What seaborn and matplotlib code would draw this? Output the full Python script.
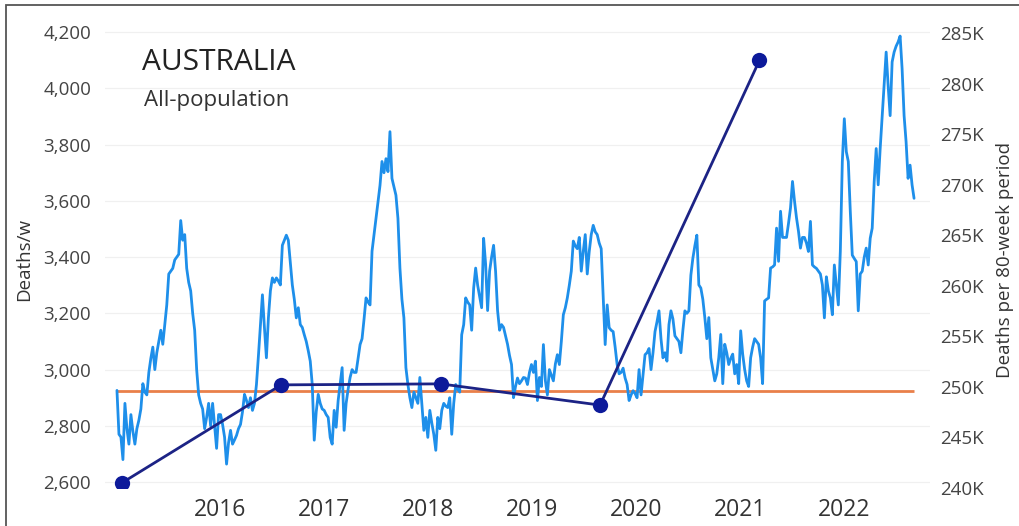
import matplotlib
matplotlib.use("Agg")
import matplotlib.pyplot as plt
import matplotlib.dates as mdates
from matplotlib.ticker import FuncFormatter, FixedLocator
from matplotlib.patches import Rectangle
import pandas as pd
import seaborn as sns

# weekly all-cause deaths, Australia
start_week = "2015-01-04"
deaths_2015 = [2926, 2770, 2760, 2680, 2880, 2790, 2735, 2840, 2780, 2735, 2790, 2820, 2860,
               2950, 2920, 2910, 2990, 3040, 3080, 3000, 3060, 3100, 3140, 3090, 3160, 3230,
               3340, 3350, 3360, 3390, 3400, 3410, 3530, 3460, 3480, 3360, 3310, 3280, 3200,
               3140, 3000, 2910, 2880, 2860, 2790, 2830, 2880, 2800, 2880, 2800, 2720, 2840]
deaths_2016 = [2840, 2805, 2760, 2664, 2740, 2784, 2735, 2750, 2766, 2790, 2805, 2850, 2912,
               2890, 2865, 2900, 2855, 2880, 2947, 3050, 3160, 3266, 3150, 3042, 3184, 3280,
               3326, 3310, 3326, 3315, 3301, 3442, 3460, 3478, 3460, 3380, 3301, 3250, 3184,
               3220, 3160, 3150, 3124, 3100, 3067, 3030, 2947, 2749, 2850, 2912, 2880, 2860]
deaths_2017 = [2855, 2840, 2830, 2759, 2735, 2855, 2795, 2890, 2950, 3007, 2784, 2880, 2930,
               2972, 3000, 2990, 2990, 3040, 3089, 3110, 3180, 3255, 3240, 3230, 3421, 3480,
               3538, 3600, 3655, 3740, 3700, 3750, 3704, 3846, 3680, 3650, 3620, 3538, 3361,
               3250, 3184, 3007, 2947, 2900, 2865, 2920, 2900, 2880, 2972, 2880, 2784, 2830]
deaths_2018 = [2759, 2855, 2810, 2770, 2713, 2830, 2790, 2855, 2880, 2870, 2865, 2900, 2770,
               2880, 2947, 2930, 2920, 3124, 3160, 3255, 3240, 3230, 3140, 3290, 3361, 3300,
               3260, 3220, 3467, 3375, 3210, 3350, 3400, 3442, 3350, 3210, 3140, 3160, 3150,
               3120, 3090, 3050, 3018, 2900, 2940, 2970, 2950, 2960, 2972, 2970, 2947, 2990]
deaths_2019 = [3018, 2990, 3030, 2890, 2972, 2940, 3089, 2960, 2910, 3000, 2980, 2960, 3020,
               3053, 3018, 3100, 3195, 3220, 3255, 3300, 3350, 3457, 3440, 3430, 3470, 3350,
               3420, 3480, 3340, 3420, 3480, 3513, 3490, 3480, 3450, 3430, 3255, 3089, 3230,
               3149, 3140, 3135, 3080, 3018, 2985, 2990, 3005, 2970, 2947, 2890, 2910, 2925]
deaths_2020 = [2915, 2900, 3000, 2910, 2980, 3053, 3060, 3075, 3000, 3060, 3135, 3170, 3209,
               3110, 3042, 3060, 3030, 3160, 3209, 3180, 3120, 3110, 3100, 3060, 3140, 3209,
               3200, 3209, 3336, 3396, 3440, 3478, 3301, 3290, 3250, 3185, 3110, 3185, 3042,
               3000, 2960, 2985, 3042, 3125, 2950, 3090, 3060, 3018, 3040, 3055, 2985, 3018]
deaths_2021 = [2950, 3138, 3055, 3000, 2960, 2940, 3042, 3080, 3110, 3100, 3090, 3042, 2950,
               3244, 3250, 3255, 3361, 3365, 3372, 3503, 3385, 3563, 3470, 3470, 3470, 3520,
               3575, 3669, 3600, 3540, 3492, 3432, 3470, 3470, 3450, 3420, 3527, 3372, 3365,
               3360, 3350, 3340, 3301, 3184, 3330, 3280, 3255, 3195, 3372, 3300, 3230, 3421]
deaths_2022 = [3740, 3892, 3775, 3740, 3563, 3407, 3395, 3384, 3209, 3340, 3350, 3400, 3432,
               3372, 3467, 3503, 3669, 3786, 3657, 3786, 3900, 4009, 4129, 4009, 3903, 4094,
               4129, 4150, 4165, 4186, 4070, 3903, 3810, 3680, 3727, 3657, 3609]

# pre-pandemic weekly level (orange line)
baseline_level = 2925

# deaths per 80-week period (right axis)
period_dates = ["2015-01-21", "2016-08-03", "2018-02-14", "2019-08-28", "2021-03-10"]
period_deaths = [240500, 250200, 250300, 248200, 282300]

year_ticks = [2016, 2017, 2018, 2019, 2020, 2021, 2022]
left_ticks = [2600, 2800, 3000, 3200, 3400, 3600, 3800, 4000, 4200]
right_ticks = [240000, 245000, 250000, 255000, 260000, 265000, 270000, 275000, 280000, 285000]

deaths = (deaths_2015 + deaths_2016 + deaths_2017 + deaths_2018 + deaths_2019
          + deaths_2020 + deaths_2021 + deaths_2022)
weekly = pd.DataFrame({
    "week": pd.date_range(start_week, periods=len(deaths), freq="W"),
    "deaths": deaths,
})
periods = pd.DataFrame({"date": pd.to_datetime(period_dates), "deaths": period_deaths})

sns.set_style("white")
plt.rcParams["font.family"] = ["Open Sans", "DejaVu Sans"]

fig = plt.figure(figsize=(10.2, 5.26), dpi=100)
ax = fig.add_axes([105 / 1020, 1 - 488 / 526, 825 / 1020, 457 / 526])
ax2 = ax.twinx()

sns.lineplot(data=weekly, x="week", y="deaths", ax=ax, color="#1E8FEA", lw=2.0, zorder=3)
ax.hlines(baseline_level, weekly["week"].iloc[0], weekly["week"].iloc[-1],
          color="#E9804A", lw=2.0, zorder=2)
sns.lineplot(data=periods, x="date", y="deaths", ax=ax2, color="#1C2385", lw=2.0,
             marker="o", markersize=11, markeredgewidth=0, markerfacecolor="#0D1A9A", zorder=4)

ax.set_xlim(pd.Timestamp("2014-11-23"), pd.Timestamp("2022-10-30"))
ax.set_ylim(2579, 4204)
ax2.set_ylim(240000, 285200)

ax.xaxis.set_major_locator(FixedLocator([mdates.date2num(pd.Timestamp(f"{y}-01-01")) for y in year_ticks]))
ax.xaxis.set_major_formatter(mdates.DateFormatter("%Y"))
ax.yaxis.set_major_locator(FixedLocator(left_ticks))
ax.yaxis.set_major_formatter(FuncFormatter(lambda v, p: f"{v:,.0f}"))
ax2.yaxis.set_major_locator(FixedLocator(right_ticks))
ax2.yaxis.set_major_formatter(FuncFormatter(lambda v, p: f"{v / 1000:.0f}K"))

ax.grid(axis="y", color="#f0f0f0", lw=0.9)
ax.tick_params(axis="x", labelsize=16.5, colors="#333333", length=0, pad=7)
ax.tick_params(axis="y", labelsize=13.5, colors="#444444", length=0, pad=10)
ax2.tick_params(axis="y", labelsize=13.5, colors="#444444", length=0, pad=7)

ax.set_xlabel("")
ax.set_ylabel("Deaths/w", fontsize=13.5, color="#333333", labelpad=7)
ax2.set_ylabel("Deaths per 80-week period", fontsize=13.5, color="#333333", labelpad=9)

for a in (ax, ax2):
    for s in a.spines.values():
        s.set_visible(False)

ax.text(0.045, 0.932, "AUSTRALIA", transform=ax.transAxes, fontsize=21.5, color="#222222",
        va="center", ha="left")
ax.text(0.047, 0.849, "All-population", transform=ax.transAxes, fontsize=16, color="#333333",
        va="center", ha="left")

# thin frame of the screenshot
fig.patches.append(Rectangle((6 / 1020, -0.05), 1.1, 1 - 5 / 526 + 0.05, transform=fig.transFigure,
                             fill=False, edgecolor="#555555", lw=1.3))

fig.savefig("out.png", dpi=100)
plt.close(fig)
